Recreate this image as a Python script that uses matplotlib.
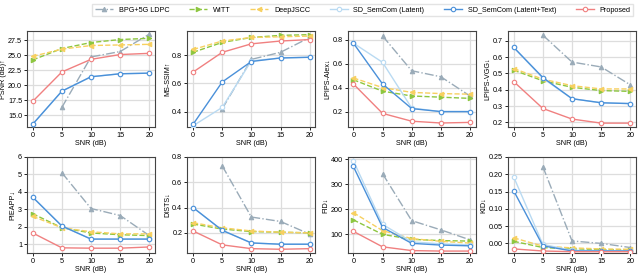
import matplotlib
matplotlib.use("Agg")
import matplotlib.pyplot as plt
import numpy as np

snr = [0, 5, 10, 15, 20]
nan = np.nan

methods = ["BPG+5G LDPC", "WITT", "DeepJSCC", "SD_SemCom (Latent)",
           "SD_SemCom (Latent+Text)", "Proposed"]

psnr = {
    "BPG+5G LDPC": [nan, 16.3, 24.7, 25.6, 28.5],
    "WITT": [24.2, 26.1, 27.1, 27.6, 27.8],
    "DeepJSCC": [24.8, 26.0, 26.6, 26.7, 26.8],
    "SD_SemCom (Latent)": [13.5, 19.0, 21.4, 21.9, 22.0],
    "SD_SemCom (Latent+Text)": [13.5, 19.0, 21.4, 21.9, 22.0],
    "Proposed": [17.3, 22.2, 24.3, 25.1, 25.3],
}
msssim = {
    "BPG+5G LDPC": [nan, 0.42, 0.77, 0.82, 0.925],
    "WITT": [0.82, 0.89, 0.925, 0.94, 0.945],
    "DeepJSCC": [0.84, 0.90, 0.925, 0.93, 0.935],
    "SD_SemCom (Latent)": [0.30, 0.43, 0.76, 0.78, 0.785],
    "SD_SemCom (Latent+Text)": [0.31, 0.61, 0.755, 0.78, 0.785],
    "Proposed": [0.68, 0.82, 0.88, 0.90, 0.91],
}
lpips_alex = {
    "BPG+5G LDPC": [nan, 0.83, 0.54, 0.49, 0.33],
    "WITT": [0.465, 0.37, 0.33, 0.32, 0.31],
    "DeepJSCC": [0.48, 0.40, 0.36, 0.35, 0.345],
    "SD_SemCom (Latent)": [0.77, 0.61, 0.23, 0.20, 0.20],
    "SD_SemCom (Latent+Text)": [0.77, 0.43, 0.225, 0.20, 0.20],
    "Proposed": [0.43, 0.185, 0.12, 0.105, 0.11],
}
lpips_vgg = {
    "BPG+5G LDPC": [nan, 0.735, 0.57, 0.54, 0.43],
    "WITT": [0.52, 0.455, 0.415, 0.395, 0.39],
    "DeepJSCC": [0.53, 0.465, 0.425, 0.405, 0.405],
    "SD_SemCom (Latent)": [0.66, 0.47, 0.345, 0.32, 0.315],
    "SD_SemCom (Latent+Text)": [0.66, 0.475, 0.345, 0.32, 0.315],
    "Proposed": [0.45, 0.285, 0.22, 0.195, 0.195],
}
pieapp = {
    "BPG+5G LDPC": [nan, 5.1, 3.05, 2.65, 1.5],
    "WITT": [2.75, 1.95, 1.65, 1.55, 1.5],
    "DeepJSCC": [2.6, 1.95, 1.72, 1.6, 1.6],
    "SD_SemCom (Latent)": [3.7, 2.05, 1.3, 1.3, 1.3],
    "SD_SemCom (Latent+Text)": [3.7, 2.05, 1.3, 1.3, 1.3],
    "Proposed": [1.65, 0.8, 0.78, 0.78, 0.85],
}
dists = {
    "BPG+5G LDPC": [nan, 0.73, 0.325, 0.29, 0.19],
    "WITT": [0.27, 0.23, 0.21, 0.205, 0.2],
    "DeepJSCC": [0.28, 0.24, 0.215, 0.205, 0.2],
    "SD_SemCom (Latent)": [0.40, 0.22, 0.12, 0.11, 0.11],
    "SD_SemCom (Latent+Text)": [0.40, 0.22, 0.12, 0.11, 0.11],
    "Proposed": [0.215, 0.105, 0.075, 0.07, 0.075],
}
fid = {
    "BPG+5G LDPC": [nan, 343, 155, 118, 78],
    "WITT": [158, 100, 80, 75, 73],
    "DeepJSCC": [187, 115, 83, 72, 65],
    "SD_SemCom (Latent)": [395, 140, 70, 62, 58],
    "SD_SemCom (Latent+Text)": [372, 128, 64, 57, 54],
    "Proposed": [112, 50, 35, 33, 33],
}
kid = {
    "BPG+5G LDPC": [nan, 0.222, 0.007, 0.0, -0.012],
    "WITT": [0.006, -0.012, -0.016, -0.018, -0.019],
    "DeepJSCC": [0.016, -0.008, -0.013, -0.016, -0.017],
    "SD_SemCom (Latent)": [0.192, -0.003, -0.020, -0.021, -0.022],
    "SD_SemCom (Latent+Text)": [0.152, -0.007, -0.022, -0.022, -0.022],
    "Proposed": [-0.016, -0.022, -0.024, -0.024, -0.024],
}

panels = [
    (psnr, "PSNR (dB)↑", (13, 29), [15.0, 17.5, 20.0, 22.5, 25.0, 27.5], "{:.1f}"),
    (msssim, "MS-SSIM↑", (0.29, 0.97), [0.4, 0.6, 0.8], "{:.1f}"),
    (lpips_alex, "LPIPS-Alex↓", (0.07, 0.87), [0.2, 0.4, 0.6, 0.8], "{:.1f}"),
    (lpips_vgg, "LPIPS-VGG↓", (0.17, 0.76), [0.2, 0.3, 0.4, 0.5, 0.6, 0.7], "{:.1f}"),
    (pieapp, "PIEAPP↓", (0.5, 6.0), [1, 2, 3, 4, 5, 6], "{:.0f}"),
    (dists, "DISTS↓", (0.04, 0.8), [0.2, 0.4, 0.6, 0.8], "{:.1f}"),
    (fid, "FID↓", (25, 410), [100, 200, 300, 400], "{:.0f}"),
    (kid, "KID↓", (-0.028, 0.25), [0.0, 0.05, 0.10, 0.15, 0.20, 0.25], "{:.2f}"),
]

styles = {
    "BPG+5G LDPC": dict(color="#9aabb8", ls="-.", marker="^", mfc="#9aabb8", zorder=2),
    "WITT": dict(color="#8dc63f", ls="--", marker=">", mfc="#8dc63f", zorder=3),
    "DeepJSCC": dict(color="#f7d060", ls="--", marker="<", mfc="#f7d060", zorder=3),
    "SD_SemCom (Latent)": dict(color="#b9daf2", ls="-", marker="o", mfc="white", zorder=3),
    "SD_SemCom (Latent+Text)": dict(color="#4a90d9", ls="-", marker="o", mfc="white", zorder=4),
    "Proposed": dict(color="#f08080", ls="-", marker="o", mfc="white", zorder=4),
}

fs = 5.2
plt.rcParams["font.family"] = ["Liberation Sans", "DejaVu Sans"]
fig, axes = plt.subplots(2, 4, figsize=(6.4, 2.73), dpi=100)
fig.subplots_adjust(left=0.042, right=0.994, top=0.886, bottom=0.073,
                    wspace=0.25, hspace=0.31)

handles = []
for ax, (data, label, ylim, yticks, fmt) in zip(axes.flat, panels):
    for m in methods:
        st = styles[m]
        h, = ax.plot(snr, data[m], color=st["color"], ls=st["ls"], lw=1.0,
                     marker=st["marker"], ms=3.2, mfc=st["mfc"], mec=st["color"],
                     mew=0.8, label=m, zorder=st["zorder"])
        if ax is axes.flat[0]:
            handles.append(h)
    ax.set_xlim(-1, 21)
    ax.set_ylim(*ylim)
    ax.set_xticks(snr)
    ax.set_yticks(yticks)
    ax.set_yticklabels([fmt.format(v) for v in yticks])
    ax.set_ylabel(label, fontsize=fs, labelpad=1)
    ax.tick_params(labelsize=fs, length=2, width=0.6, pad=1.5)
    ax.grid(True, color="#dddddd", lw=0.9)
    ax.set_axisbelow(True)
    for s in ax.spines.values():
        s.set_color("#444444")
        s.set_linewidth(0.8)
    ax.set_xlabel("SNR (dB)", fontsize=fs, labelpad=1)

fig.legend(handles=handles, labels=methods, loc="upper center", ncol=6,
           bbox_to_anchor=(0.567, 1.0), fontsize=fs, frameon=True,
           handlelength=2.5, columnspacing=2.7, handletextpad=0.8,
           borderpad=0.4, edgecolor="#dddddd", fancybox=False)

fig.savefig("out.png", dpi=100)
